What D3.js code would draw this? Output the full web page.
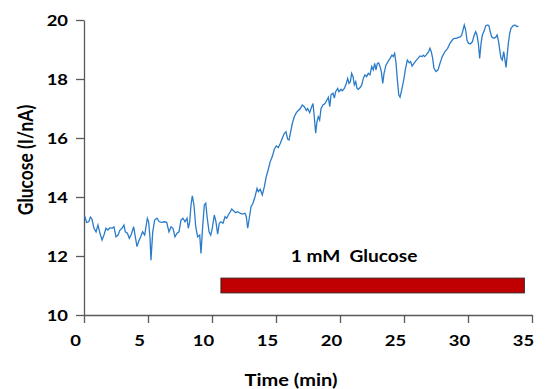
<!DOCTYPE html>
<html>
<head>
<meta charset="utf-8">
<script src="https://cdn.jsdelivr.net/npm/d3@7"></script>
<style>
  body { margin: 0; background: #fff; }
  svg text { font-family: Lato, "Open Sans", sans-serif; font-weight: bold; fill: #000; }
</style>
</head>
<body>
<div id="chart"></div>
<script>
// glucose trace (min, I/nA)
const timeMin = [0.05,0.2,0.37,0.5,0.62,0.78,0.94,1.09,1.25,1.41,1.56,1.72,1.87,2.03,2.19,2.34,2.5,2.66,2.81,2.97,
  3.12,3.23,3.39,3.54,3.7,3.88,4.01,4.14,4.27,4.43,4.58,4.74,4.95,5.05,5.16,5.23,5.37,5.52,5.7,5.88,
  6.07,6.28,6.46,6.64,6.8,6.95,7.11,7.27,7.42,7.58,7.73,7.89,8.05,8.15,8.26,8.36,8.46,8.59,8.73,8.88,
  9.04,9.14,9.27,9.4,9.51,9.63,9.77,9.9,10.02,10.18,10.31,10.44,10.57,10.7,10.86,11.02,11.15,11.27,11.43,11.54,
  11.66,11.85,12.0,12.19,12.37,12.58,12.68,12.79,12.89,13.05,13.2,13.36,13.52,13.62,13.77,13.93,14.09,14.24,14.4,14.55,
  14.71,14.87,15.02,15.18,15.34,15.49,15.65,15.78,15.91,16.02,16.12,16.28,16.43,16.59,16.74,16.9,17.05,17.21,17.37,17.47,
  17.63,17.79,17.89,17.99,18.1,18.2,18.3,18.41,18.52,18.67,18.83,18.98,19.09,19.2,19.3,19.45,19.56,19.66,19.82,19.92,
  20.08,20.18,20.34,20.49,20.6,20.7,20.81,20.91,21.02,21.12,21.23,21.33,21.43,21.59,21.7,21.82,21.95,22.08,22.21,22.34,
  22.48,22.6,22.71,22.81,22.92,23.02,23.13,23.23,23.34,23.44,23.59,23.75,23.91,24.06,24.16,24.27,24.38,24.48,24.59,24.69,
  24.79,24.9,25.0,25.1,25.26,25.41,25.52,25.63,25.78,25.94,26.09,26.25,26.41,26.51,26.62,26.72,26.82,26.93,27.03,27.13,
  27.24,27.34,27.5,27.66,27.81,27.99,28.2,28.41,28.59,28.77,28.93,29.09,29.24,29.4,29.51,29.61,29.71,29.82,29.92,30.03,
  30.18,30.34,30.49,30.6,30.7,30.81,30.91,31.02,31.12,31.27,31.38,31.54,31.64,31.74,31.85,32.01,32.16,32.27,32.37,32.48,
  32.58,32.68,32.79,32.89,32.97,33.05,33.15,33.26,33.36,33.52,33.67,33.83,33.93];
const glucose = [13.37,13.14,13.16,13.32,13.25,12.94,12.82,13.05,12.77,12.54,12.71,12.94,12.88,12.96,12.94,12.99,12.65,12.71,12.88,12.94,
  13.05,12.82,12.77,12.6,12.74,12.99,12.65,12.32,12.49,12.65,12.82,12.71,13.28,13.16,12.6,11.86,12.82,13.22,13.28,13.16,
  13.14,13.16,13.14,12.82,12.99,12.94,12.65,12.77,12.82,13.22,13.28,13.16,13.28,12.94,13.16,13.73,14.04,13.73,12.99,12.65,
  12.71,12.09,12.99,13.73,13.79,13.28,12.82,12.71,12.94,13.39,13.16,12.74,13.11,13.16,13.11,13.33,13.28,13.39,13.5,13.59,
  13.54,13.47,13.5,13.45,13.42,13.45,13.33,12.94,13.22,13.67,13.79,14.01,14.29,14.18,14.26,14.07,14.35,14.69,14.94,15.2,
  15.37,15.62,15.73,15.68,15.82,15.99,16.16,16.21,15.96,15.93,16.16,16.5,16.72,16.86,16.93,17.0,17.12,17.06,16.93,17.0,
  16.86,17.06,17.17,16.72,16.16,16.55,16.72,16.61,17.0,17.12,17.17,17.29,17.38,17.06,17.46,17.52,17.35,17.57,17.68,17.57,
  17.65,17.6,17.68,17.85,18.02,17.85,17.91,18.19,18.08,17.8,17.91,17.68,17.65,17.72,17.8,18.02,18.14,18.08,18.19,18.14,
  18.42,18.31,18.53,18.31,18.53,18.55,18.42,18.25,17.85,18.19,18.47,18.59,18.7,18.81,18.76,18.87,18.53,17.97,17.46,17.38,
  17.57,17.8,18.02,18.31,18.64,18.55,18.59,18.44,18.53,18.62,18.7,18.78,18.76,18.81,18.76,18.81,18.87,18.93,19.04,18.93,
  18.7,18.36,18.25,18.31,18.53,18.76,18.93,19.04,19.21,19.32,19.38,19.38,19.41,19.43,19.49,19.66,19.83,19.66,19.32,19.21,
  19.19,19.26,19.49,19.6,19.49,19.21,18.7,19.21,19.49,19.64,19.8,19.83,19.8,19.6,19.43,19.38,19.41,19.49,19.32,18.98,
  18.7,18.64,18.93,18.64,18.39,18.76,19.21,19.55,19.72,19.8,19.83,19.77,19.8];

// glucose application bar
const barStart = 10.7, barEnd = 34.4;
const barLow = 10.75, barHigh = 11.25;
const barLabel = "1 mM  Glucose";

const xTicks = [0, 5, 10, 15, 20, 25, 30, 35];
const yTicks = [10, 12, 14, 16, 18, 20];

const width = 546, height = 389;
const margin = {left: 84, right: 14, top: 20, bottom: 74};
const sx = 1.15; // text in the original is a bit wide

const svg = d3.select("#chart").append("svg")
  .attr("width", width)
  .attr("height", height);

const x = d3.scaleLinear().domain([0, 35]).range([margin.left, width - margin.right]);
const y = d3.scaleLinear().domain([10, 20]).range([height - margin.bottom, margin.top]);

// x axis
const xAxis = svg.append("g")
  .attr("transform", `translate(0,${height - margin.bottom})`)
  .call(d3.axisBottom(x).tickValues(xTicks).tickSize(8).tickSizeOuter(0).tickPadding(12));
xAxis.selectAll("text")
  .attr("font-size", "16px")
  .attr("x", -9 / sx)
  .attr("transform", `scale(${sx},1)`);

// y axis
const yAxis = svg.append("g")
  .attr("transform", `translate(${margin.left},0)`)
  .call(d3.axisLeft(y).tickValues(yTicks).tickSize(8).tickSizeOuter(0));
yAxis.selectAll("text")
  .attr("font-size", "16px")
  .attr("x", -16 / sx)
  .attr("transform", `scale(${sx},1)`);

svg.selectAll(".domain, .tick line").attr("stroke", "#595959").attr("stroke-width", 1.3);

// trace
const pts = timeMin.map((t, i) => [t, glucose[i]]);
svg.append("path")
  .datum(pts)
  .attr("fill", "none")
  .attr("stroke", "#2a7bc9")
  .attr("stroke-width", 1.3)
  .attr("d", d3.line().x(d => x(d[0])).y(d => y(d[1])));

// glucose bar + label
svg.append("rect")
  .attr("x", x(barStart))
  .attr("y", y(barHigh))
  .attr("width", x(barEnd) - x(barStart))
  .attr("height", y(barLow) - y(barHigh))
  .attr("fill", "#c00000")
  .attr("stroke", "#3b1d1d")
  .attr("stroke-width", 1);

svg.append("text")
  .attr("transform", `translate(354,262) scale(${sx},1)`)
  .attr("text-anchor", "middle")
  .attr("font-size", "16.6px")
  .style("white-space", "pre")
  .text(barLabel);

// axis titles
svg.append("text")
  .attr("transform", `translate(291,386) scale(${sx},1)`)
  .attr("text-anchor", "middle")
  .attr("font-size", "17.4px")
  .text("Time (min)");

svg.append("text")
  .attr("transform", `translate(33,160) scale(${sx},1) rotate(-90)`)
  .attr("text-anchor", "middle")
  .attr("font-size", "17.4px")
  .text("Glucose (I/nA)");
</script>
</body>
</html>
